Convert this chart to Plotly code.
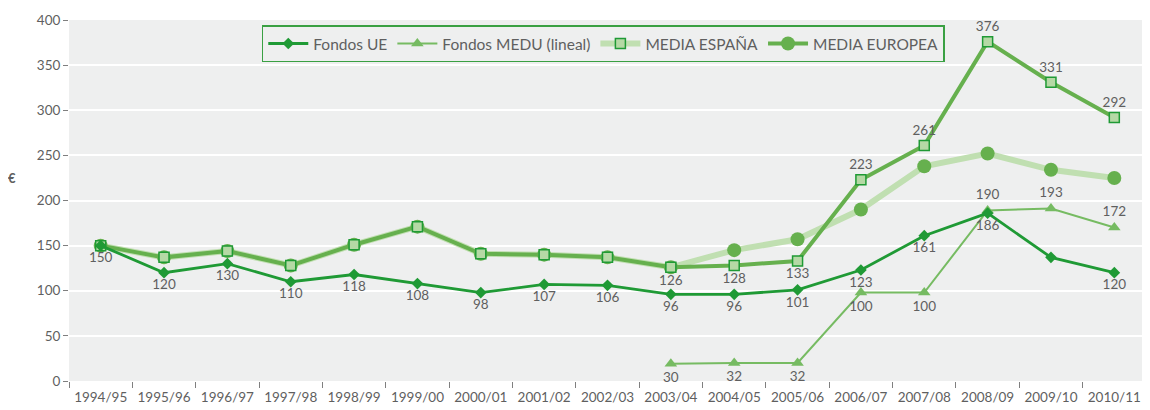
import plotly.graph_objects as go

years = ["1994/95", "1995/96", "1996/97", "1997/98", "1998/99", "1999/00", "2000/01",
         "2001/02", "2002/03", "2003/04", "2004/05", "2005/06", "2006/07", "2007/08",
         "2008/09", "2009/10", "2010/11"]

fondos_ue = [150, 120, 130, 110, 118, 108, 98, 107, 106, 96, 96, 101, 123, 161, 186, 137, 120]
fondos_ue_labels = ["150", "120", "130", "110", "118", "108", "98", "107", "106", "96", "96",
                    "101", "123", "161", "186", "", "120"]

medu_years = ["2003/04", "2004/05", "2005/06", "2006/07", "2007/08", "2008/09", "2009/10", "2010/11"]
fondos_medu = [19, 20, 20, 98, 98, 189, 191, 170]
fondos_medu_labels = ["30", "32", "32", "100", "100", "190", "193", "172"]

squares_line = [150, 137, 144, 128, 151, 171, 141, 140, 137, 126, 128, 133, 223, 261, 376, 331, 292]
squares_labels = ["", "", "", "", "", "", "", "", "", "126", "128", "133", "223", "261", "376", "331", "292"]

circles_line = [150, 137, 144, 128, 151, 171, 141, 140, 137, 126, 145, 157, 190, 238, 252, 234, 225]

DARK = "#1f9a35"
MEDU_C = "#76bb62"
MID = "#66b04e"
LIGHT = "#c0dfb1"
SQFILL = "#b5d9a5"
GRAY = "#5f5f5f"
LBL = 13.5

fig = go.Figure()

fig.add_trace(go.Scatter(
    x=years, y=circles_line, mode="lines+markers",
    line=dict(color=LIGHT, width=6),
    marker=dict(symbol="circle", size=14, color=MID),
    showlegend=False, hoverinfo="skip"))

fig.add_trace(go.Scatter(
    x=years, y=squares_line, mode="lines+markers+text",
    line=dict(color=MID, width=4),
    marker=dict(symbol="square", size=10, color=SQFILL, line=dict(color=DARK, width=1.5)),
    text=squares_labels,
    textposition=["bottom center"] * 12 + ["top center"] * 5,
    textfont=dict(color=GRAY, size=LBL),
    showlegend=False, hoverinfo="skip", cliponaxis=False))

fig.add_trace(go.Scatter(
    x=medu_years, y=fondos_medu, mode="lines+markers+text",
    line=dict(color=MEDU_C, width=2),
    marker=dict(symbol="triangle-up", size=11, color=MEDU_C),
    text=fondos_medu_labels,
    textposition=["bottom center"] * 5 + ["top center"] * 3,
    textfont=dict(color=GRAY, size=LBL),
    showlegend=False, hoverinfo="skip", cliponaxis=False))

fig.add_trace(go.Scatter(
    x=years, y=fondos_ue, mode="lines+markers+text",
    line=dict(color=DARK, width=2.8),
    marker=dict(symbol="diamond", size=9, color=DARK),
    text=fondos_ue_labels, textposition="bottom center",
    textfont=dict(color=GRAY, size=LBL),
    showlegend=False, hoverinfo="skip", cliponaxis=False))

fig.add_trace(go.Scatter(x=[None], y=[None], mode="lines+markers", name="Fondos UE",
                         line=dict(color=DARK, width=2.8),
                         marker=dict(symbol="diamond", size=9, color=DARK)))
fig.add_trace(go.Scatter(x=[None], y=[None], mode="lines+markers", name="Fondos MEDU (lineal)",
                         line=dict(color=MEDU_C, width=2),
                         marker=dict(symbol="triangle-up", size=11, color=MEDU_C)))
fig.add_trace(go.Scatter(x=[None], y=[None], mode="lines+markers", name="MEDIA ESPAÑA",
                         line=dict(color=LIGHT, width=6),
                         marker=dict(symbol="square", size=10, color=SQFILL, line=dict(color=DARK, width=1.5))))
fig.add_trace(go.Scatter(x=[None], y=[None], mode="lines+markers", name="MEDIA EUROPEA",
                         line=dict(color=MID, width=4),
                         marker=dict(symbol="circle", size=14, color=MID)))

fig.update_layout(
    width=1142, height=402,
    margin=dict(l=61, r=4, t=10, b=29),
    paper_bgcolor="white", plot_bgcolor="#eeefef",
    font=dict(family="Lato, Open Sans, sans-serif", size=13, color=GRAY),
    legend=dict(orientation="h", x=0.179, y=0.985, xanchor="left", yanchor="top",
                bgcolor="#eeefef", bordercolor="#3aa043", borderwidth=1.5,
                font=dict(size=15.5, color=GRAY), itemwidth=40, tracegroupgap=0,
                traceorder="normal"),
    annotations=[dict(text="<b>€</b>", xref="paper", yref="paper",
                      x=-0.053, y=0.562, showarrow=False, xanchor="center",
                      font=dict(size=13, color=GRAY))],
)

fig.update_xaxes(type="category", categoryorder="array", categoryarray=years,
                 range=[-0.5, 16.5], tickson="boundaries", ticks="outside", ticklen=6,
                 tickcolor="#7f7f7f", showgrid=False, showline=False, zeroline=False,
                 ticklabelstandoff=6,
                 tickfont=dict(size=13.5, color=GRAY))
fig.update_yaxes(range=[0, 400], dtick=50, ticks="outside", ticklen=5, tickcolor="#7f7f7f",
                 gridcolor="white", gridwidth=1.5, zeroline=False, showline=False,
                 tickfont=dict(size=13.5, color=GRAY))

fig.write_html("out.html")
